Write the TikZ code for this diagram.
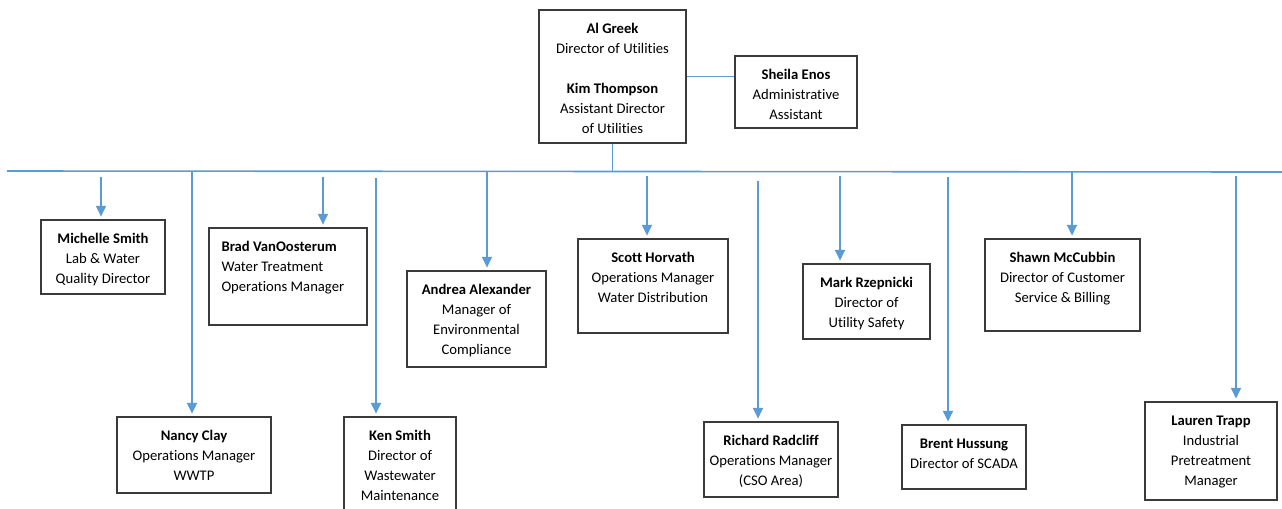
\documentclass[tikz,border=0pt]{standalone}
\usepackage{fontspec}
\setmainfont{Carlito}[Ligatures=NoCommon]
\usetikzlibrary{arrows.meta,fit,positioning}
\definecolor{linkblue}{HTML}{5B9BD5}
\definecolor{boxline}{HTML}{3A3A3A}

\begin{document}
\begin{tikzpicture}[x=0.75pt,y=-0.75pt]
  \tikzstyle{box} = [rectangle, draw=boxline, line width=1.1pt, inner sep=0pt]
  \tikzstyle{nametext} = [font=\fontsize{11}{15}\selectfont, execute at begin node=\strut, align=center, anchor=north, yshift=-10.5pt, inner sep=0pt]
  \tikzstyle{link} = [draw=linkblue, line width=1.2pt]
  \tikzstyle{arrow} = [link, -{Triangle[length=8pt,width=7.5pt]}, shorten >=2pt]

  \useasboundingbox (0,0) rectangle (1282,508);

  % top level
  \node (greek) [box, fit={(539,10) (686,143)}] {};
  \node (greektxt) [nametext] at (greek.north) {\textbf{Al Greek}\\Director of Utilities\\[15pt]\textbf{Kim Thompson}\\Assistant Director\\of Utilities};
  \node (enos) [box, fit={(735,56) (857,128)}] {};
  \node (enostxt) [nametext] at (enos.north) {\textbf{Sheila Enos}\\Administrative\\Assistant};

  % managers, upper row
  \node (msmith) [box, fit={(41,220) (165,294)}] {};
  \node (msmithtxt) [nametext] at (msmith.north) {\textbf{Michelle Smith}\\Lab \& Water\\Quality Director};
  \node (brad) [box, fit={(209,228) (367,325)}] {};
  \node (bradtxt) [nametext, align=left, anchor=north west, xshift=9.75pt] at (brad.north west) {\textbf{Brad VanOosterum}\\Water Treatment\\Operations Manager};
  \node (andrea) [box, fit={(407,271) (546,367)}] {};
  \node (andreatxt) [nametext] at (andrea.north) {\textbf{Andrea Alexander}\\Manager of\\Environmental\\Compliance};
  \node (scott) [box, fit={(578,239) (728,333)}] {};
  \node (scotttxt) [nametext] at (scott.north) {\textbf{Scott Horvath}\\Operations Manager\\Water Distribution};
  \node (mark) [box, fit={(803,264) (930,339)}] {};
  \node (marktxt) [nametext] at (mark.north) {\textbf{Mark Rzepnicki}\\Director of\\Utility Safety};
  \node (shawn) [box, fit={(985,239) (1140,331)}] {};
  \node (shawntxt) [nametext] at (shawn.north) {\textbf{Shawn McCubbin}\\Director of Customer\\Service \& Billing};

  % managers, lower row
  \node (nancy) [box, fit={(117,417) (271,493)}] {};
  \node (nancytxt) [nametext] at (nancy.north) {\textbf{Nancy Clay}\\Operations Manager\\WWTP};
  \node (ken) [box, fit={(344,417) (456,511)}] {};
  \node (kentxt) [nametext] at (ken.north) {\textbf{Ken Smith}\\Director of\\Wastewater\\Maintenance};
  \node (richard) [box, fit={(704,422) (838,497)}] {};
  \node (richardtxt) [nametext] at (richard.north) {\textbf{Richard Radcliff}\\Operations Manager\\(CSO Area)};
  \node (brent) [box, fit={(902,425) (1026,489)}] {};
  \node (brenttxt) [nametext] at (brent.north) {\textbf{Brent Hussung}\\Director of SCADA};
  \node (lauren) [box, fit={(1145,402) (1277,500)}] {};
  \node (laurentxt) [nametext] at (lauren.north) {\textbf{Lauren Trapp}\\Industrial\\Pretreatment\\Manager};

  % bus line
  \coordinate (busL) at (7,171);
  \coordinate (busR) at (1282,172);
  \draw [link] (busL) -- (busR);
  \draw [link] (greek.south) -- (greek.south |- busL);
  \draw [link] (greek.east) -- (greek.east -| enos.west);

  % arrow starts
  \coordinate (toms) at (101,177);
  \coordinate (tonc) at (192,172);
  \coordinate (tobv) at (323,177);
  \coordinate (toks) at (376,178);
  \coordinate (toaa) at (487,172);
  \coordinate (tosh) at (647,176);
  \coordinate (torr) at (758,181);
  \coordinate (tomr) at (840,176);
  \coordinate (tobh) at (948,177);
  \coordinate (tosm) at (1072,172);
  \coordinate (tolt) at (1236,176);

  \draw [arrow] (toms) -- (toms |- msmith.north);
  \draw [arrow] (tonc) -- (tonc |- nancy.north);
  \draw [arrow] (tobv) -- (tobv |- brad.north);
  \draw [arrow] (toks) -- (toks |- ken.north);
  \draw [arrow] (toaa) -- (toaa |- andrea.north);
  \draw [arrow] (tosh) -- (tosh |- scott.north);
  \draw [arrow] (torr) -- (torr |- richard.north);
  \draw [arrow] (tomr) -- (tomr |- mark.north);
  \draw [arrow] (tobh) -- (tobh |- brent.north);
  \draw [arrow] (tosm) -- (tosm |- shawn.north);
  \draw [arrow] (tolt) -- (tolt |- lauren.north);
\end{tikzpicture}
\end{document}
